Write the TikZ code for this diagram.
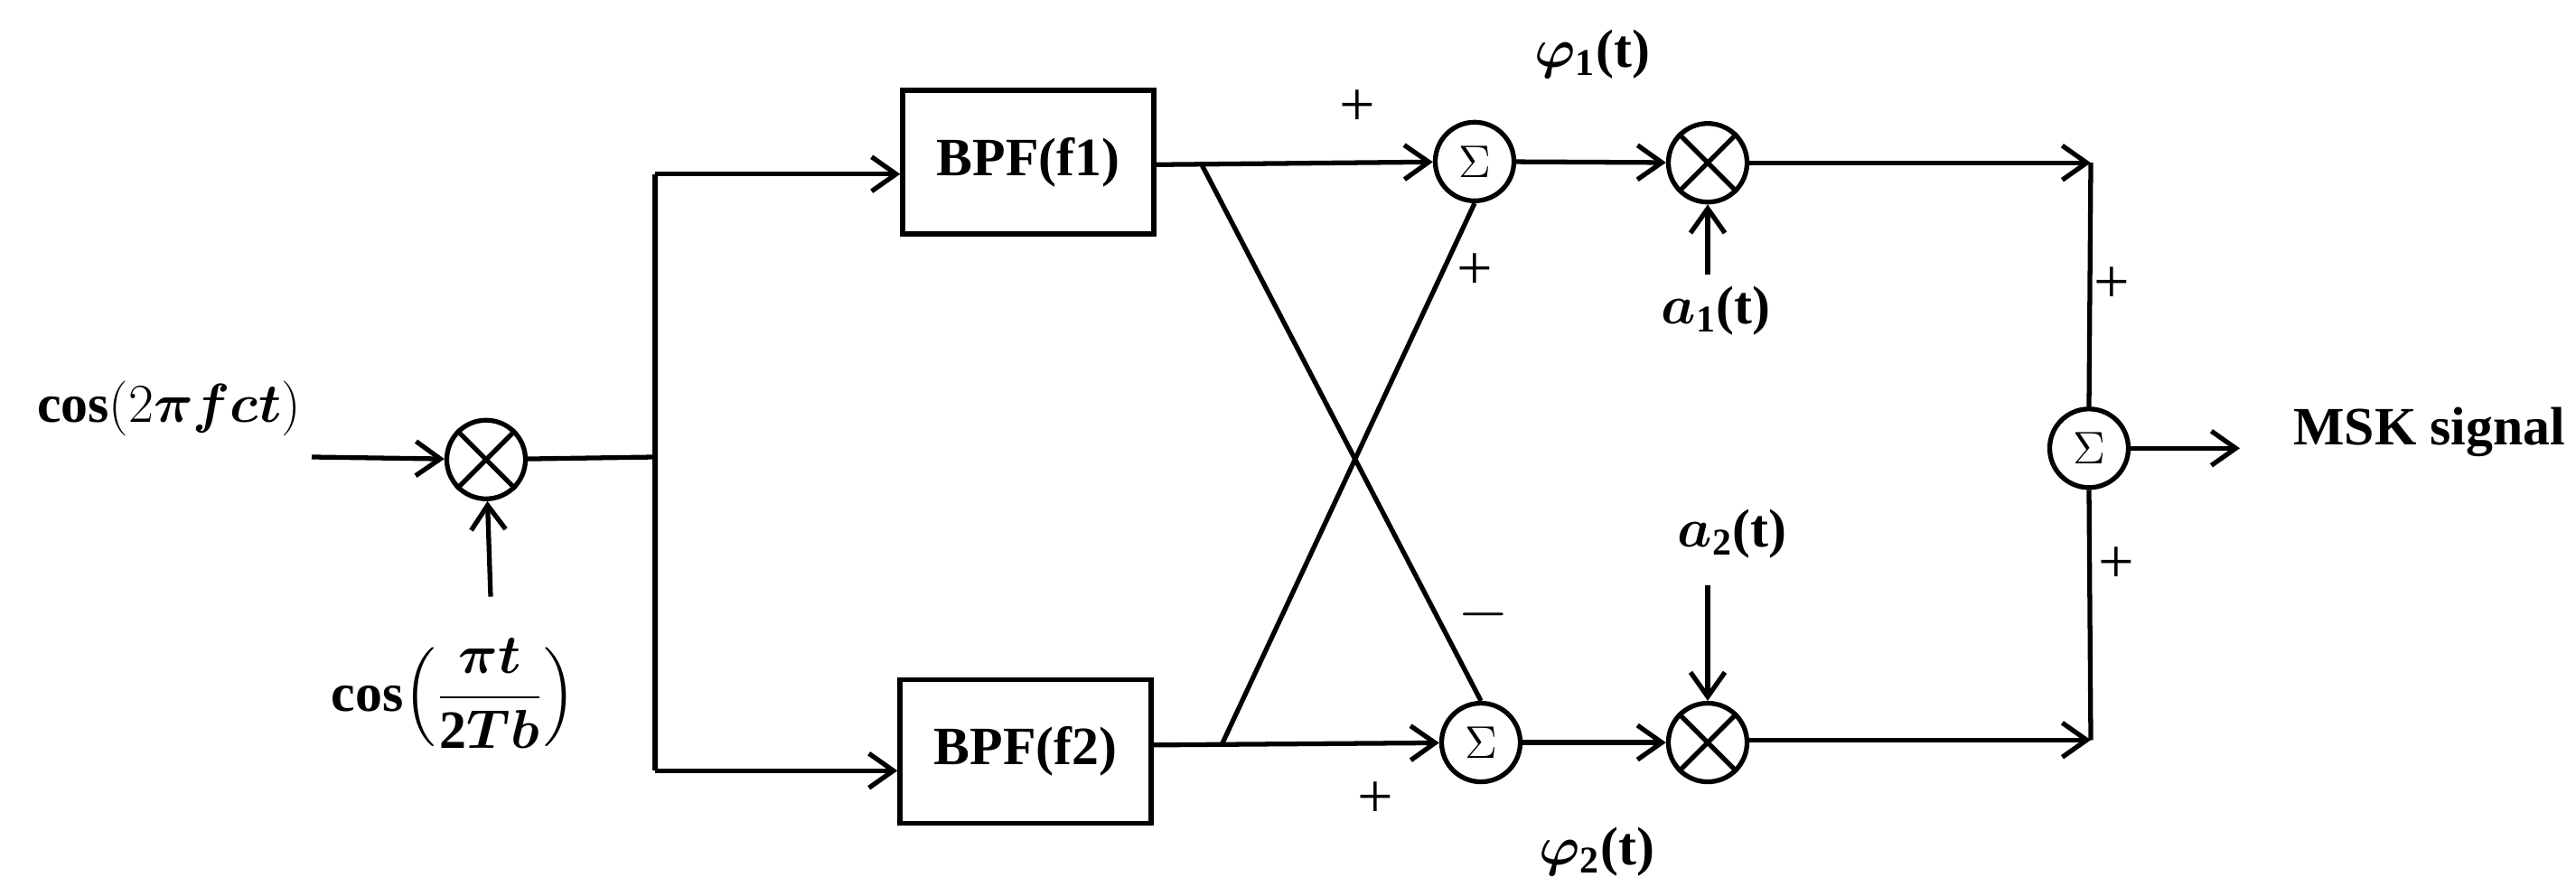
\documentclass[tikz,border=0pt]{standalone}
\usepackage{amsmath}
\usepackage{fontspec}
\setmainfont{Liberation Serif}
\usepackage{bm}
\usetikzlibrary{arrows.meta,shapes.geometric}
\begin{document}
\begin{tikzpicture}[x=0.01cm,y=-0.00692cm,line width=1.5pt,
  every node/.style={font=\fontsize{17}{20}\selectfont\bfseries},
  arr/.style={-{Straight Barb[length=2.7mm,width=3.8mm,line width=1.5pt]}},
  box/.style={draw,minimum width=2.78cm,minimum height=1.59cm,inner sep=0pt},
  mix/.style={draw,circle,minimum size=0.87cm,inner sep=0pt},
  sum/.style={draw,circle,minimum size=0.87cm,inner sep=0pt,font=\fontsize{15}{17}\selectfont},
  pm/.style={font=\fontsize{20}{22}\selectfont}]
\useasboundingbox (0,0) rectangle (2851,1430);
% nodes
\node[mix] (m0) at (538,734) {};
\node[box] (b1) at (1138,259) {BPF(f1)};
\node[box] (b2) at (1135,1200) {BPF(f2)};
\node[sum] (s1) at (1632,258) {$\Sigma$};
\node[sum] (s2) at (1639,1186) {$\Sigma$};
\node[mix] (m1) at (1890,260) {};
\node[mix] (m2) at (1890,1186) {};
\node[sum] (s3) at (2312,716) {$\Sigma$};
\foreach \m in {m0,m1,m2}{\draw (\m.45)--(\m.225) (\m.135)--(\m.315);}
% labels
\node (lin) at (187,652) {cos$(2\bm{\pi f c t})$};
\node (lcos) at (502,1108) {cos$\Bigl(\dfrac{\bm{\pi t}}{\mathbf{2}\bm{T b}}\Bigr)$};
\node (phi1) at (1762,87) {$\bm{\varphi}_{\mathbf 1}$(t)};
\node (phi2) at (1767,1360) {$\bm{\varphi}_{\mathbf 2}$(t)};
\node (a1) at (1899,497) {$\bm{a}_{\mathbf 1}$(t)};
\node (a2) at (1917,853) {$\bm{a}_{\mathbf 2}$(t)};
\node[anchor=west] (msk) at (2524,690) {MSK signal};
\node[pm] at (1502,173) {+};
\node[pm] at (1632,433) {+};
\node[pm] at (2337,456) {+};
\node[pm] at (2342,903) {+};
\node[pm] at (1522,1278) {+};
\node[pm] at (1642,981) {$-$};
% coordinates
\coordinate (in0) at (345,730);
\coordinate (c0) at (543,953);
\coordinate (j) at (725,730);
\coordinate (jt) at (725,278);
\coordinate (jb) at (725,1231);
\coordinate (p1) at (1330,263);
\coordinate (p2) at (1352,1190);
\coordinate (r1) at (2314,260);
\coordinate (r2) at (2314,1182);
\coordinate (o) at (2479,716);
\coordinate (ca1) at (1890,438);
\coordinate (ca2) at (1890,935);
% connectors
\draw[arr] (in0) -- (m0);
\draw[arr] (c0) -- (m0);
\draw (m0) -- (j);
\draw (jt) -- (jb);
\draw[arr] (jt) -- (b1.west |- jt);
\draw[arr] (jb) -- (b2.west |- jb);
\draw[arr] (b1.east |- p1) -- (s1);
\draw[arr] (b2.east |- p2) -- (s2);
\draw (p1) -- (s2.north);
\draw (p2) -- (s1.south);
\draw[arr] (s1) -- (m1);
\draw[arr] (s2) -- (m2);
\draw[arr] (ca1) -- (m1.south);
\draw[arr] (ca2) -- (m2.north);
\draw[arr] (m1.east |- r1) -- (r1);
\draw[arr] (m2.east |- r2) -- (r2);
\draw (r1) -- (s3.north);
\draw (r2) -- (s3.south);
\draw[arr] (s3) -- (o);
\end{tikzpicture}
\end{document}
